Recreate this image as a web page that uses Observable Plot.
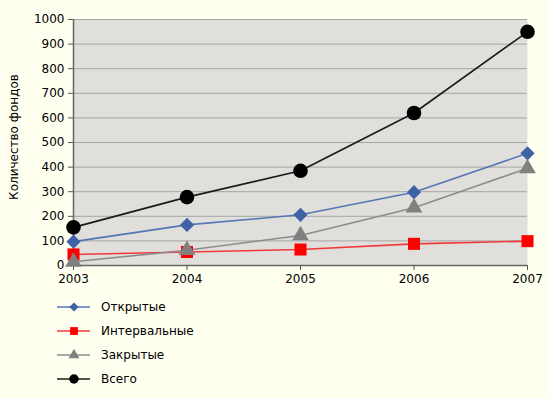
<!DOCTYPE html>
<html><head><meta charset="utf-8">
<script src="https://cdn.jsdelivr.net/npm/d3@7"></script>
<script src="https://cdn.jsdelivr.net/npm/@observablehq/plot@0.6"></script>
<style>
body{margin:0;background:#FFFFF0;font-family:"DejaVu Sans",Verdana,sans-serif;}
#wrap{position:relative;width:549px;height:398px;}
#legend{position:absolute;left:0;top:0;width:549px;height:398px;pointer-events:none}
</style></head><body><div id="wrap"></div>
<script>
const years = [2003, 2004, 2005, 2006, 2007];
const seriesNames = ["Открытые", "Интервальные", "Закрытые", "Всего"];
const open = [97, 165, 206, 298, 456];
const interval = [45, 55, 65, 88, 99];
const closed = [15, 62, 122, 235, 395];
const total = [155, 278, 385, 620, 950];
const yTicks = [0, 100, 200, 300, 400, 500, 600, 700, 800, 900, 1000];
const yLabel = "Количество фондов";

const styles = {
  "Открытые": {line: "#5476B4", fill: "#3E62A6", symbol: "diamond2", r: 6.4},
  "Интервальные": {line: "#F03A3A", fill: "#FF0000", symbol: "square", r: 6.8},
  "Закрытые": {line: "#8C8C8C", fill: "#808080", symbol: "triangle", r: 6.2},
  "Всего": {line: "#1A1A1A", fill: "#000000", symbol: "circle", r: 7.3}
};
const valuesBySeries = [open, interval, closed, total];
const rows = [];
seriesNames.forEach((s, i) => years.forEach((y, j) => rows.push({series: s, year: y, value: valuesBySeries[i][j]})));

const marks = [
  Plot.frame({fill: "#E0DFDB", stroke: null}),
  Plot.ruleY(yTicks.filter(d => d > 0), {stroke: "#A6A6A6", strokeWidth: 1}),
  Plot.axisY({ticks: yTicks, tickFormat: "d", tickSize: 5, tickPadding: 4, fontSize: 12, label: null, stroke: "#555"}),
  Plot.axisX({ticks: years, tickFormat: "d", tickSize: 5, tickPadding: 4, fontSize: 12, label: null, stroke: "#555"}),
  Plot.ruleX([2003], {stroke: "#666", strokeWidth: 1.5}),
  Plot.ruleY([0], {stroke: "#666", strokeWidth: 1.5})
];
for (const s of seriesNames) {
  const st = styles[s];
  const d = rows.filter(r => r.series === s);
  marks.push(Plot.line(d, {x: "year", y: "value", stroke: st.line, strokeWidth: 1.6}));
}
for (const s of seriesNames) {
  const st = styles[s];
  const d = rows.filter(r => r.series === s);
  marks.push(Plot.dot(d, {x: "year", y: "value", symbol: () => st.symbol, fill: st.fill, stroke: "none", r: st.r}));
}

const chart = Plot.plot({
  width: 549, height: 290,
  marginLeft: 73, marginRight: 22, marginTop: 19, marginBottom: 25,
  style: {background: "transparent", fontFamily: "DejaVu Sans, Verdana, sans-serif", fontSize: "12px", color: "#000"},
  x: {domain: [2003, 2007], axis: null},
  y: {domain: [0, 1000], axis: null},
  symbol: {type: "identity"},
  marks
});
document.getElementById("wrap").appendChild(chart);

// y label + legend below the chart
const symMap = {diamond2: d3.symbolDiamond2, square: d3.symbolSquare, triangle: d3.symbolTriangle, circle: d3.symbolCircle};
const legendRows = [307, 331, 355, 379];
let html = `<text transform="translate(14,137) rotate(-90)" text-anchor="middle" dominant-baseline="middle" font-size="12" font-family="DejaVu Sans, Verdana, sans-serif">${yLabel}</text>`;
seriesNames.forEach((s, i) => {
  const st = styles[s];
  const cy = legendRows[i];
  const sym = d3.symbol(symMap[st.symbol], Math.PI * (st.r*0.65) ** 2)();
  html += `<line x1="57" x2="90" y1="${cy}" y2="${cy}" stroke="${st.line}" stroke-width="1.6"/>`;
  html += `<path d="${sym}" transform="translate(74,${cy})" fill="${st.fill}"/>`;
  html += `<text x="101" y="${cy}" dy="0.35em" font-size="12" font-family="DejaVu Sans, Verdana, sans-serif">${s}</text>`;
});
const lg = document.createElementNS("http://www.w3.org/2000/svg", "svg");
lg.setAttribute("id", "legend");
lg.setAttribute("width", 549); lg.setAttribute("height", 398);
lg.innerHTML = html;
document.getElementById("wrap").appendChild(lg);
</script></body></html>
